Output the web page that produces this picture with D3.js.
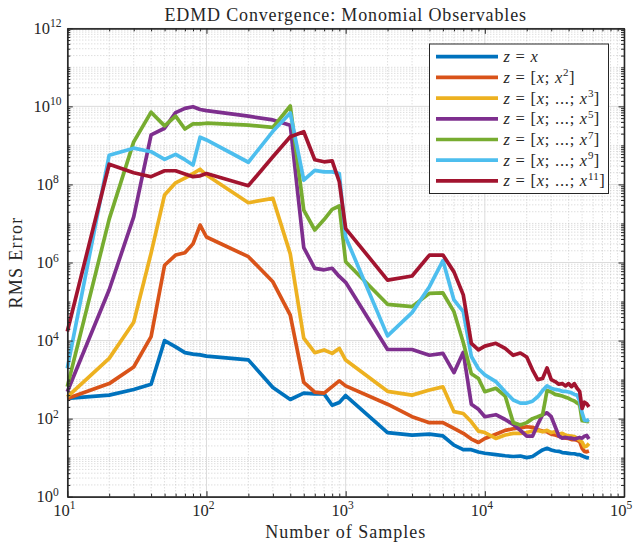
<!DOCTYPE html>
<html>
<head>
<meta charset="utf-8">
<script src="https://cdn.jsdelivr.net/npm/d3@7"></script>
<style>
  body { margin: 0; background: #fff; }
  svg { display: block; }
  text { font-family: "Liberation Serif", "DejaVu Serif", serif; fill: #262626; }
</style>
</head>
<body>
<svg id="chart" width="634" height="544"></svg>
<script>
// Sample counts used for each EDMD fit
const samples = [10, 20, 30, 40, 50, 60, 70, 80, 90, 100,
  200, 300, 400, 500, 600, 700, 800, 900, 1000,
  2000, 3000, 4000, 5000, 6000, 7000, 8000, 9000, 10000,
  12000, 14000, 16000, 18000, 20000, 22000, 24000, 26000, 28000, 30000,
  32000, 34000, 36000, 38000, 40000, 42000, 44000, 46000, 48000, 50000,
  52000, 54000, 56000];

// RMS error for each monomial dictionary
const rmsDeg1 = [330, 400, 560, 760, 1.0e4, 6.9e3, 4.9e3, 4.5e3, 4.3e3, 4.0e3,
  3.2e3, 630, 310, 450, 430, 430, 220, 260, 390,
  44, 38, 40, 36, 21, 16, 16, 14, 13,
  12, 11.2, 10.7, 11.0, 10.0, 10.7, 13.2, 15.8, 17.4, 15.8,
  14.8, 14.5, 13.5, 13.2, 12.9, 12.6, 12.6, 12.0, 12.0, 11.2,
  10.5, 10.0, 9.8];
const rmsDeg2 = [330, 790, 2.1e3, 1.26e4, 8.5e5, 1.55e6, 1.78e6, 3.0e6, 9.1e6, 4.5e6,
  1.41e6, 3.2e5, 4.5e4, 850, 480, 450, 660, 930, 690,
  234, 112, 79, 79, 56, 42, 30, 24.5, 31,
  40, 50, 55, 58, 62, 60, 52, 48, 46, 40,
  38, 35.5, 33, 31.6, 31, 29, 29, 28, 26, 17.4,
  14.5, 14.1, 14.8];
const rmsDeg3 = [360, 3.5e3, 2.95e4, 1.74e6, 5.4e7, 1.1e8, 1.45e8, 1.9e8, 2.45e8, 1.74e8,
  3.4e7, 4.4e7, 1.66e6, 1.15e4, 4.9e3, 5.75e3, 4.7e3, 6.3e3, 3.16e3,
  500, 400, 540, 650, 151, 135, 83, 48, 44,
  31, 38, 42, 42, 44, 48, 50, 46, 50, 44,
  46, 40, 42, 38, 36, 35.5, 34.7, 31.6, 28, 25,
  19, 20, 23];
const rmsDeg5 = [490, 2.0e5, 1.48e7, 1.86e9, 2.75e9, 6.9e9, 8.9e9, 9.8e9, 8.3e9, 7.8e9,
  5.6e9, 4.5e9, 3.3e9, 2.4e6, 7.1e5, 6.5e5, 7.1e5, 4.4e5, 3.1e5,
  5.9e3, 5.9e3, 4.2e3, 4.7e3, 1.51e3, 5.0e3, 234, 174, 112,
  126, 95, 71, 50, 35.5, 35.5, 71, 126, 141, 112,
  63, 36, 31.6, 33, 31.6, 31.6, 30, 31.6, 33, 31.6,
  35.5, 37, 30];
const rmsDeg7 = [660, 1.29e7, 1.23e9, 7.1e9, 3.16e9, 5.6e9, 2.63e9, 3.55e9, 3.55e9, 3.7e9,
  3.3e9, 2.9e9, 1.02e10, 2.2e7, 6.8e6, 1.26e7, 2.3e7, 2.8e7, 1.05e6,
  8.5e4, 7.4e4, 1.62e5, 1.66e5, 5.5e4, 8.9e3, 1.41e3, 1.07e3, 490,
  600, 380, 79, 69, 79, 100, 112, 126, 525, 480,
  417, 400, 380, 355, 331, 302, 282, 251, 229, 89,
  87, 85, 83];
const rmsDeg9 = [1.95e3, 5.6e8, 8.5e8, 6.9e8, 4.4e8, 5.9e8, 4.3e8, 3.16e8, 1.62e9, 1.38e9,
  3.7e8, 2.3e9, 6.8e9, 1.29e8, 2.3e8, 2.1e8, 2.1e8, 1.9e8, 4.5e6,
  1.32e4, 5.2e4, 2.4e5, 1.12e6, 1.1e5, 5.5e4, 3.9e3, 1.9e3, 1.32e3,
  890, 490, 300, 250, 250, 280, 363, 525, 690, 600,
  560, 540, 500, 500, 480, 457, 417, 400, 282, 141,
  91, 89, 95];
const rmsDeg11 = [1.7e4, 3.3e8, 2.0e8, 1.58e8, 2.24e8, 2.24e8, 1.86e8, 1.58e8, 1.66e8, 1.9e8,
  9.3e7, 5.1e8, 1.66e9, 2.24e9, 4.3e8, 3.8e8, 4.0e8, 1.17e8, 7.4e6,
  3.55e5, 4.5e5, 1.55e6, 1.55e6, 5.75e5, 1.48e5, 8.5e3, 5.75e3, 7.2e3,
  8.5e3, 6.3e3, 4.2e3, 4.8e3, 3.8e3, 1.78e3, 1.0e3, 1.07e3, 2.0e3, 1.0e3,
  890, 760, 790, 690, 790, 660, 790, 600, 500, 182,
  263, 240, 200];

// Highest power in each dictionary (legend labels)
const maxPowers = [1, 2, 3, 5, 7, 9, 11];
const seriesColors = ["#0072BD", "#D95319", "#EDB120", "#7E2F8E", "#77AC30", "#4DBEEE", "#A2142F"];

// Axis ticks (powers of ten)
const xTickExponents = [1, 2, 3, 4, 5];
const yTickExponents = [0, 2, 4, 6, 8, 10, 12];

const titleText = "EDMD Convergence: Monomial Observables";
const xLabelText = "Number of Samples";
const yLabelText = "RMS Error";

const allSeries = [rmsDeg1, rmsDeg2, rmsDeg3, rmsDeg5, rmsDeg7, rmsDeg9, rmsDeg11];

const svg = d3.select("#chart");
const W = 634, H = 544;
const plot = { left: 67.3, right: 624, top: 28.3, bottom: 496.7 };

const x = d3.scaleLog().domain([10, 1e5]).range([plot.left, plot.right]);
const y = d3.scaleLog().domain([1, 1e12]).range([plot.bottom, plot.top]);

svg.append("rect").attr("width", W).attr("height", H).attr("fill", "#fff");

// Major and minor tick values
const xMajor = xTickExponents.map(e => Math.pow(10, e));
const yMajor = yTickExponents.map(e => Math.pow(10, e));
const xMinor = [], yMinor = [];
for (let e = 1; e < 5; e++) for (let m = 2; m <= 9; m++) xMinor.push(m * Math.pow(10, e));
for (let e = 0; e < 12; e++) for (let m = 1; m <= 9; m++) {
  if (m === 1 && yTickExponents.includes(e)) continue;
  yMinor.push(m * Math.pow(10, e));
}

// Grid
const grid = svg.append("g");
grid.selectAll(".xminor").data(xMinor).join("line")
  .attr("x1", d => x(d)).attr("x2", d => x(d))
  .attr("y1", plot.top).attr("y2", plot.bottom)
  .attr("stroke", "#c4c4c4").attr("stroke-width", 0.8).attr("stroke-dasharray", "1,2");
grid.selectAll(".yminor").data(yMinor).join("line")
  .attr("y1", d => y(d)).attr("y2", d => y(d))
  .attr("x1", plot.left).attr("x2", plot.right)
  .attr("stroke", "#c4c4c4").attr("stroke-width", 0.8).attr("stroke-dasharray", "1,2");
grid.selectAll(".xmajor").data(xMajor).join("line")
  .attr("x1", d => x(d)).attr("x2", d => x(d))
  .attr("y1", plot.top).attr("y2", plot.bottom)
  .attr("stroke", "#dcdcdc").attr("stroke-width", 1);
grid.selectAll(".ymajor").data(yMajor).join("line")
  .attr("y1", d => y(d)).attr("y2", d => y(d))
  .attr("x1", plot.left).attr("x2", plot.right)
  .attr("stroke", "#dcdcdc").attr("stroke-width", 1);

// Series lines
const line = d3.line().x((d, i) => x(samples[i])).y(d => y(d));
svg.append("g").selectAll("path").data(allSeries).join("path")
  .attr("d", d => line(d))
  .attr("fill", "none")
  .attr("stroke", (d, i) => seriesColors[i])
  .attr("stroke-width", 3.7)
  .attr("stroke-linejoin", "round");

// Axes with inward ticks on all four sides
function styleAxis(g) {
  g.selectAll("path.domain").attr("stroke", "#262626").attr("stroke-width", 1.3);
  g.selectAll(".tick line").attr("stroke", "#262626").attr("stroke-width", 1);
  g.selectAll(".tick text").remove();
}
const axes = [
  [d3.axisBottom, x, "translate(0," + plot.bottom + ")"],
  [d3.axisTop, x, "translate(0," + plot.top + ")"],
  [d3.axisLeft, y, "translate(" + plot.left + ",0)"],
  [d3.axisRight, y, "translate(" + plot.right + ",0)"]
];
axes.forEach(([fn, sc, tr]) => {
  const isX = sc === x;
  svg.append("g").attr("transform", tr)
    .call(fn(sc).tickValues(isX ? xMinor : yMinor).tickSizeInner(-3).tickSizeOuter(0))
    .call(styleAxis);
  svg.append("g").attr("transform", tr)
    .call(fn(sc).tickValues(isX ? xMajor : yMajor).tickSizeInner(-5.5).tickSizeOuter(0))
    .call(styleAxis);
});

// Tick labels as 10^n
const tickFont = 16.5, supFont = 11.5;
xTickExponents.forEach(e => {
  const t = svg.append("text")
    .attr("x", x(Math.pow(10, e)) - 3).attr("y", plot.bottom + 19)
    .attr("text-anchor", "middle").attr("font-size", tickFont);
  t.append("tspan").text("10");
  t.append("tspan").attr("dy", -6.5).attr("font-size", supFont).text(e);
});
yTickExponents.forEach(e => {
  const t = svg.append("text")
    .attr("x", 47.5).attr("y", y(Math.pow(10, e)) + 5.5)
    .attr("text-anchor", "middle").attr("font-size", tickFont);
  t.append("tspan").text("10");
  t.append("tspan").attr("dy", -6.5).attr("font-size", supFont).text(e);
});

// Title and axis labels
svg.append("text").attr("x", (plot.left + plot.right) / 2).attr("y", 20.5)
  .attr("text-anchor", "middle").attr("font-size", 18).attr("letter-spacing", 0.85)
  .text(titleText);
svg.append("text").attr("x", (plot.left + plot.right) / 2).attr("y", 538)
  .attr("text-anchor", "middle").attr("font-size", 18).attr("letter-spacing", 1)
  .text(xLabelText);
svg.append("text")
  .attr("transform", "translate(22," + ((plot.top + plot.bottom) / 2) + ") rotate(-90)")
  .attr("text-anchor", "middle").attr("font-size", 18).attr("letter-spacing", 1.3)
  .text(yLabelText);

// Legend
const leg = { x: 429.5, y: 44, w: 179, h: 149.5, row: 20.7 };
const lg = svg.append("g");
lg.append("rect").attr("x", leg.x).attr("y", leg.y).attr("width", leg.w).attr("height", leg.h)
  .attr("fill", "#fff").attr("stroke", "#262626").attr("stroke-width", 1);
maxPowers.forEach((p, i) => {
  const cy = leg.y + 12.7 + i * leg.row;
  lg.append("line").attr("x1", leg.x + 6.5).attr("x2", leg.x + 68.5)
    .attr("y1", cy).attr("y2", cy)
    .attr("stroke", seriesColors[i]).attr("stroke-width", 3.7);
  const t = lg.append("text").attr("x", leg.x + 74).attr("y", cy + 5.5)
    .attr("font-size", 16.5).attr("letter-spacing", 0.75);
  t.append("tspan").attr("font-style", "italic").text("z");
  t.append("tspan").text(" = ");
  if (p === 1) {
    t.append("tspan").attr("font-style", "italic").text("x");
    return;
  }
  t.append("tspan").text("[");
  t.append("tspan").attr("font-style", "italic").text("x");
  t.append("tspan").text(p === 2 ? "; " : "; ...; ");
  t.append("tspan").attr("font-style", "italic").text("x");
  t.append("tspan").attr("dy", -6.5).attr("font-size", 11).attr("letter-spacing", 0.3).text(p);
  t.append("tspan").attr("dy", 6.5).text("]");
});
</script>
</body>
</html>
